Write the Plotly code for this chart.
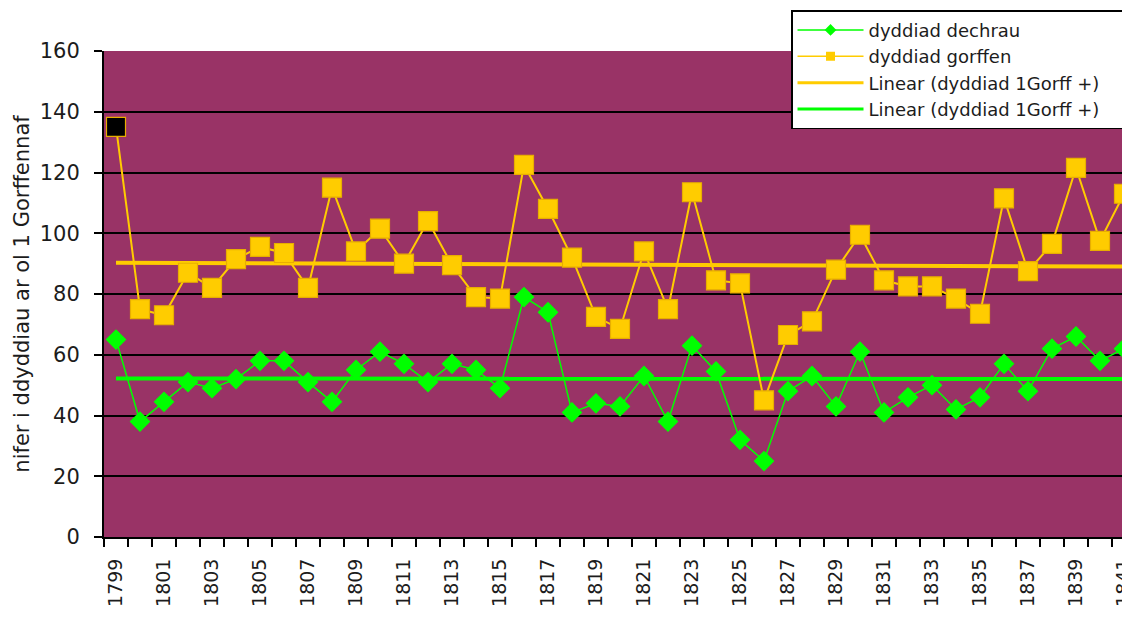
import plotly.graph_objects as go

years = list(range(1799, 1842))
dechrau = [65, 38, 44.5, 51, 49, 52, 58, 58, 51, 44.5, 55, 61, 57, 51, 57, 55, 49, 79, 74, 41,
           44, 43, 53, 38, 63, 54.5, 32, 25, 48, 53, 43, 61, 41, 46, 50, 42, 46, 57, 48, 62,
           66, 58, 62]
gorffen = [135, 75, 73, 87, 82, 91.5, 95.5, 93.5, 82, 115, 94, 101.5, 90, 104, 89.5, 79, 78.5, 122.5, 108, 92,
           72.5, 68.5, 94, 75, 113.5, 84.5, 83.5, 45, 66.5, 71, 88, 99.5, 84.5, 82.5, 82.5, 78.5, 73.5, 111.5, 87.5, 96.5,
           121.5, 97.5, 113]
trend_years = [1799, 1842]
trend_gorffen = [90.3, 89.0]
trend_dechrau = [52.2, 52.0]
tick_years = years[::2]
tick_labels = [str(y) for y in tick_years]
trend_name = "Linear (dyddiad 1Gorff +)"

GREEN = "#00FF00"
GOLD = "#FFCC00"
TXT = "#1c1c1c"
FONT = "DejaVu Sans, Verdana, sans-serif"
PAD = "\u00a0" * 4  # right padding inside the legend box

fig = go.Figure()

# trend lines (drawn beneath the data)
fig.add_trace(go.Scatter(x=trend_years, y=trend_gorffen, mode="lines",
                         line=dict(color=GOLD, width=4), showlegend=False, hoverinfo="skip"))
fig.add_trace(go.Scatter(x=trend_years, y=trend_dechrau, mode="lines",
                         line=dict(color=GREEN, width=4), showlegend=False, hoverinfo="skip"))

# data series
fig.add_trace(go.Scatter(x=years, y=gorffen, mode="lines+markers", showlegend=False,
                         line=dict(color=GOLD, width=2),
                         marker=dict(symbol="square", size=19,
                                     color=["black"] + [GOLD] * (len(gorffen) - 1),
                                     line=dict(color="#E8AE00", width=1.2))))
fig.add_trace(go.Scatter(x=years, y=dechrau, mode="lines+markers", showlegend=False,
                         line=dict(color=GREEN, width=1.5),
                         marker=dict(symbol="diamond", size=16, color=GREEN,
                                     line=dict(color=GREEN, width=0))))

# legend entries
fig.add_trace(go.Scatter(x=[None], y=[None], mode="lines+markers", name="dyddiad dechrau",
                         line=dict(color=GREEN, width=1.5),
                         marker=dict(symbol="diamond", size=9, color=GREEN), legendrank=1))
fig.add_trace(go.Scatter(x=[None], y=[None], mode="lines+markers", name="dyddiad gorffen",
                         line=dict(color=GOLD, width=1.5),
                         marker=dict(symbol="square", size=9, color=GOLD), legendrank=2))
fig.add_trace(go.Scatter(x=[None], y=[None], mode="lines", name=trend_name + PAD,
                         line=dict(color=GOLD, width=3), legendrank=3))
fig.add_trace(go.Scatter(x=[None], y=[None], mode="lines", name=trend_name + PAD,
                         line=dict(color=GREEN, width=3), legendrank=4))

# the page body adds an 8px offset, so the figure is sized to fit the 1130x622 window
fig.update_layout(
    width=1122, height=614,
    margin=dict(l=96, r=0, t=43, b=85, autoexpand=False),
    paper_bgcolor="white", plot_bgcolor="#993366",
    font=dict(family=FONT, color=TXT),
    showlegend=True,
    legend=dict(x=0.6696, y=1.084, xanchor="left", yanchor="top",
                bgcolor="white", bordercolor="black", borderwidth=1.5,
                font=dict(size=18, color=TXT), itemwidth=66,
                tracegroupgap=0, traceorder="normal"),
    xaxis=dict(range=[1798.5, 1841.25], tickmode="array", tickvals=tick_years, ticktext=tick_labels,
               tickangle=-90, tickfont=dict(size=19, color=TXT), ticks="", ticklabelstandoff=12,
               ticklabeloverflow="allow", automargin=False,
               showgrid=False, zeroline=False, showline=True, linecolor="black", linewidth=2,
               minor=dict(ticks="outside", ticklen=8, tickwidth=1.5, tickcolor="black",
                          tickmode="linear", tick0=1798.5, dtick=1, showgrid=False)),
    yaxis=dict(range=[0, 160], tickmode="linear", tick0=0, dtick=20, automargin=False,
               tickfont=dict(size=21, color=TXT), ticks="outside", ticklen=8, tickwidth=1.5,
               tickcolor="black", ticklabelstandoff=10, showgrid=True, gridcolor="black", gridwidth=2,
               zeroline=False, showline=True, linecolor="black", linewidth=2,
               title=dict(text="nifer i ddyddiau ar ol 1 Gorffennaf", font=dict(size=21, color=TXT),
                          standoff=4)),
)

fig.write_html("out.html")
